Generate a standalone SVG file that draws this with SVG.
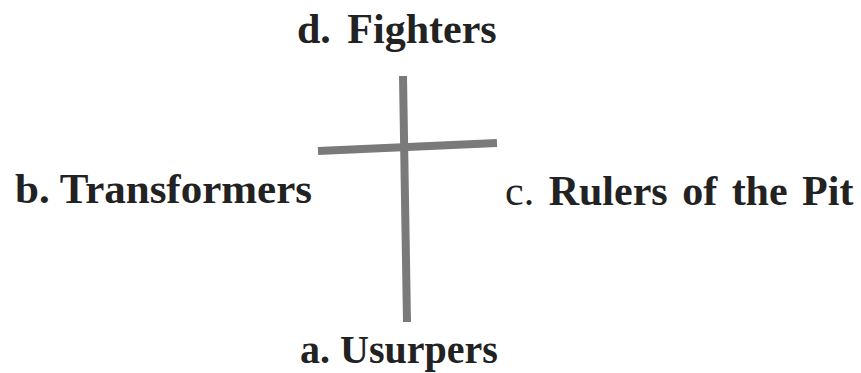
<svg xmlns="http://www.w3.org/2000/svg" width="861" height="373" viewBox="0 0 861 373">
<style>
.lbl{font-family:"Liberation Serif","Times New Roman",serif;font-size:42px;font-weight:bold;fill:#222;}
.reg{font-weight:normal;}
.bar{stroke:#7a7a7a;stroke-width:8;stroke-linecap:butt;fill:none;}
</style>
<rect width="861" height="373" fill="#fff"/>
<g id="connectors">
<line class="bar" x1="403" y1="76" x2="407" y2="322"/>
<line class="bar" x1="318" y1="151" x2="497" y2="143"/>
</g>
<g id="node-d"><text class="lbl" x="297" y="43" word-spacing="6">d. Fighters</text></g>
<g id="node-b"><text class="lbl" x="15" y="203" style="font-size:43px">b. Transformers</text></g>
<g id="node-c"><text class="lbl" x="505" y="205" word-spacing="4"><tspan class="reg">c.</tspan> Rulers of the Pit</text></g>
<g id="node-a"><text class="lbl" x="300" y="363" style="font-size:40px">a. Usurpers</text></g>
</svg>
